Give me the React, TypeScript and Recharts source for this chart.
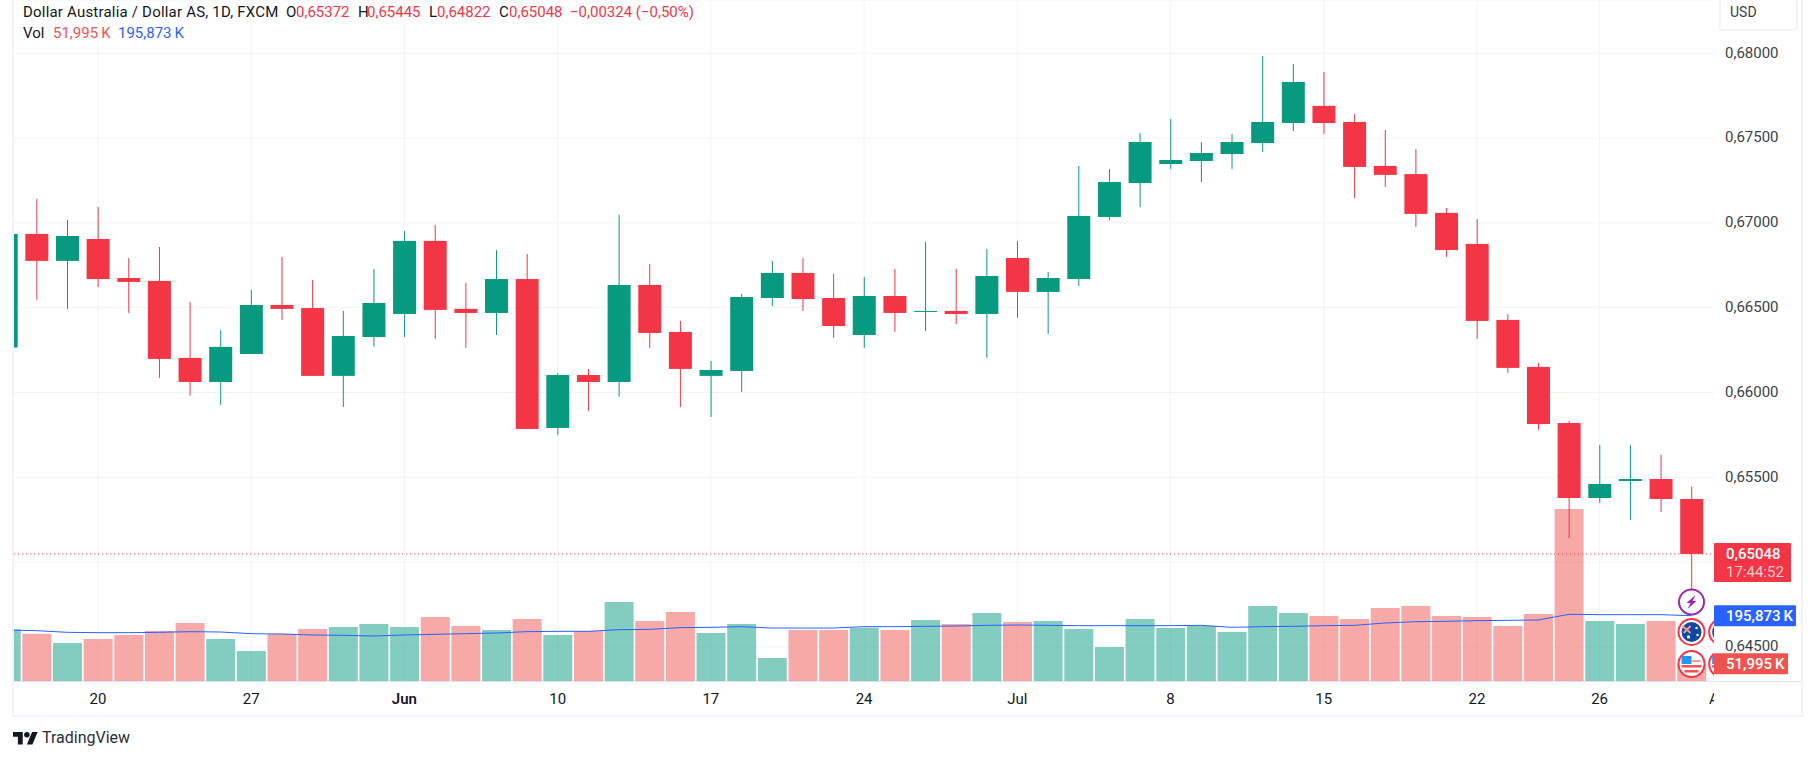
import {
  Bar,
  CartesianGrid,
  Cell,
  ComposedChart,
  Line,
  ReferenceDot,
  ReferenceLine,
  XAxis,
  YAxis,
} from "recharts";

// ---------------------------------------------------------------------------
// Data
// ---------------------------------------------------------------------------

const DATES = [
  "May 15", "May 16", "May 17", "May 20", "May 21", "May 22", "May 23", "May 24",
  "May 27", "May 28", "May 29", "May 30", "May 31", "Jun 3", "Jun 4", "Jun 5",
  "Jun 6", "Jun 7", "Jun 10", "Jun 11", "Jun 12", "Jun 13", "Jun 14", "Jun 17",
  "Jun 18", "Jun 19", "Jun 20", "Jun 21", "Jun 24", "Jun 25", "Jun 26", "Jun 27",
  "Jun 28", "Jul 1", "Jul 2", "Jul 3", "Jul 4", "Jul 5", "Jul 8", "Jul 9",
  "Jul 10", "Jul 11", "Jul 12", "Jul 15", "Jul 16", "Jul 17", "Jul 18", "Jul 19",
  "Jul 22", "Jul 23", "Jul 24", "Jul 25", "Jul 26", "Jul 29", "Jul 30", "Jul 31",
  "Aug 1",
];

const OPENS = [
  0.66265, 0.66935, 0.66776, 0.66905, 0.66675, 0.66658, 0.66204, 0.66062,
  0.66227, 0.66516, 0.66498, 0.66098, 0.66327, 0.66463, 0.66894, 0.66493,
  0.66469, 0.66669, 0.65791, 0.66103, 0.66062, 0.66634, 0.66357, 0.66098,
  0.66127, 0.66557, 0.66705, 0.66557, 0.66339, 0.66569, 0.66475, 0.66481,
  0.66463, 0.66793, 0.66593, 0.66669, 0.67035, 0.67235, 0.67347, 0.67365,
  0.67406, 0.67471, 0.67589, 0.67690, 0.67595, 0.67336, 0.67288, 0.67059,
  0.66876, 0.66428, 0.66151, 0.65820, 0.65378, 0.65478, 0.65490, 0.65372,
];

const CLOSES = [
  0.66935, 0.66776, 0.66923, 0.66669, 0.66652, 0.66198, 0.66062, 0.66269,
  0.66516, 0.66493, 0.66098, 0.66333, 0.66528, 0.66894, 0.66487, 0.66469,
  0.66669, 0.65785, 0.66103, 0.66062, 0.66634, 0.66351, 0.66139, 0.66133,
  0.66563, 0.66705, 0.66551, 0.66392, 0.66569, 0.66469, 0.66481, 0.66463,
  0.66687, 0.66593, 0.66675, 0.67041, 0.67241, 0.67477, 0.67371, 0.67412,
  0.67477, 0.67595, 0.67831, 0.67589, 0.67330, 0.67283, 0.67053, 0.66840,
  0.66422, 0.66145, 0.65814, 0.65378, 0.65461, 0.65490, 0.65372, 0.65048,
];

const HIGHS = [
  0.66980, 0.67141, 0.67017, 0.67094, 0.66793, 0.66858, 0.66534, 0.66369,
  0.66605, 0.66799, 0.66664, 0.66481, 0.66728, 0.66952, 0.66988, 0.66646,
  0.66840, 0.66817, 0.66115, 0.66139, 0.67047, 0.66758, 0.66422, 0.66186,
  0.66581, 0.66776, 0.66793, 0.66699, 0.66681, 0.66728, 0.66888, 0.66728,
  0.66846, 0.66894, 0.66711, 0.67336, 0.67318, 0.67530, 0.67613, 0.67477,
  0.67524, 0.67984, 0.67937, 0.67890, 0.67642, 0.67548, 0.67436, 0.67088,
  0.67023, 0.66463, 0.66174, 0.65832, 0.65691, 0.65691, 0.65632, 0.65445,
];

const LOWS = [
  0.66230, 0.66546, 0.66493, 0.66622, 0.66469, 0.66086, 0.65980, 0.65927,
  0.66227, 0.66428, 0.66098, 0.65915, 0.66269, 0.66327, 0.66316, 0.66263,
  0.66339, 0.65785, 0.65750, 0.65891, 0.65974, 0.66263, 0.65915, 0.65856,
  0.66003, 0.66510, 0.66481, 0.66322, 0.66263, 0.66357, 0.66363, 0.66404,
  0.66204, 0.66440, 0.66345, 0.66628, 0.67017, 0.67094, 0.67318, 0.67241,
  0.67318, 0.67418, 0.67542, 0.67524, 0.67147, 0.67212, 0.66976, 0.66799,
  0.66316, 0.66115, 0.65779, 0.65142, 0.65349, 0.65248, 0.65296, 0.64822,
];

// thousands
const VOLUMES = [
  155, 142, 114, 126, 138, 150, 174, 126, 90, 141, 156, 162, 171, 162, 192, 165,
  153, 186, 138, 150, 237, 180, 207, 144, 171, 69, 153, 153, 160, 153, 183, 171,
  204, 177, 180, 156, 102, 186, 159, 165, 147, 225, 204, 195, 186, 219, 225, 195,
  192, 165, 201, 516, 180, 171, 180, 51.995,
];

const VOLUME_MA = [
  153, 151, 146, 145, 145, 146, 148, 147, 142, 141, 138, 137, 135, 138, 140, 142,
  144, 148, 149, 149, 154, 155, 160, 161, 163, 159, 159, 159, 163, 163, 164, 165,
  167, 168, 167, 166, 166, 166, 166, 167, 161, 163, 164, 166, 167, 174, 178, 179,
  181, 182, 183, 200, 199, 199, 199, 195.873,
];

const PRICE_TICKS = [0.645, 0.65, 0.655, 0.66, 0.665, 0.67, 0.675, 0.68];
const DATE_TICKS = [
  "May 20", "May 27", "Jun 3", "Jun 10", "Jun 17", "Jun 24", "Jul 1", "Jul 8",
  "Jul 15", "Jul 22", "Jul 26", "Aug 1",
];
const DATE_TICK_LABELS = ["20", "27", "Jun", "10", "17", "24", "Jul", "8", "15", "22", "26", "Aug"];

const LAST_PRICE = 0.65048;
const LAST_VOLUME = 51.995;
const LAST_VOLUME_MA = 195.873;
const LAST_DATE = "Jul 31";
const NEXT_DATE = "Aug 1";
const BOLT_PRICE = 0.64765;
const AU_PRICE = 0.64588;
const US_PRICE = 0.64399;

const table = DATES.map((date, i) => ({
  date,
  open: OPENS[i] ?? null,
  close: CLOSES[i] ?? null,
  high: HIGHS[i] ?? null,
  low: LOWS[i] ?? null,
  range: HIGHS[i] != null ? [LOWS[i], HIGHS[i]] : null,
  volume: VOLUMES[i] ?? null,
  volumeMa: VOLUME_MA[i] ?? null,
}));

// ---------------------------------------------------------------------------
// Palette and layout
// ---------------------------------------------------------------------------

const UP = "#089981";
const DOWN = "#f23645";
const VOL_DOWN = "#ef5350";
const BLUE = "#2962ff";
const GRID = "#f0f3fa";
const TEXT = "#131722";
const FONT = "Roboto, sans-serif";

const PLOT_LEFT = 13;
const PLOT_RIGHT = 1714;

function formatPrice(v: number) {
  return v.toFixed(5).replace(".", ",");
}

// the last-price badge sits on top of the 0,65000 label
function formatPriceTick(v: number) {
  return v === 0.65 ? "" : formatPrice(v);
}

// ---------------------------------------------------------------------------
// Custom marks
// ---------------------------------------------------------------------------

function CandleShape({ x, y, width, height, payload }: any) {
  if (!payload || payload.open == null) return null;
  const { open, close, high, low } = payload;
  const perUnit = height / (high - low);
  const bodyTop = y + (high - Math.max(open, close)) * perUnit;
  const bodyHeight = Math.max(Math.abs(open - close) * perUnit, 1);
  const fill = close >= open ? UP : DOWN;
  return (
    <g>
      <rect x={x + width / 2 - 0.5} y={y} width={1} height={height} fill={fill} />
      <rect x={x} y={bodyTop} width={width} height={bodyHeight} fill={fill} />
    </g>
  );
}

function DateTick({ x, y, payload }: any) {
  const label = DATE_TICK_LABELS[DATE_TICKS.indexOf(payload.value)];
  return (
    <text
      x={x}
      y={y + 23}
      textAnchor="middle"
      clipPath="url(#plot-clip)"
      fontFamily={FONT}
      fontSize={15}
      fontWeight={label === "Jun" ? 600 : 400}
      fill={TEXT}
    >
      {label}
    </text>
  );
}

function Badge({ cy, fill, width, label, sub }: any) {
  const height = sub ? 39 : 21;
  const top = sub ? cy - 11 : cy - 10.5;
  return (
    <g fontFamily={FONT} fontSize={15}>
      <rect x={PLOT_RIGHT} y={top} width={width} height={height} fill={fill} rx={1} />
      <text x={PLOT_RIGHT + 12} y={top + 16} fill="#fff" fontWeight={500}>
        {label}
      </text>
      {sub && (
        <text x={PLOT_RIGHT + 12} y={top + 34} fill="#fff" fillOpacity={0.75}>
          {sub}
        </text>
      )}
    </g>
  );
}

function BoltIcon({ cx, cy }: any) {
  return (
    <g>
      <circle cx={cx} cy={cy} r={12.5} fill="#fff" stroke="#9c27b0" strokeWidth={2} />
      <path
        d={`M${cx + 4} ${cy - 7}L${cx - 5} ${cy + 1}H${cx - 1}L${cx - 4} ${cy + 7}L${cx + 5} ${cy - 1}H${cx + 1}Z`}
        fill="#9c27b0"
      />
    </g>
  );
}

function AuFlag({ cx, cy }: any) {
  return (
    <g clipPath="url(#plot-clip)">
      <circle cx={cx} cy={cy} r={13} fill="#fff" stroke={DOWN} strokeWidth={2} />
      <circle cx={cx} cy={cy} r={10} fill="#0d47a1" />
      <path d={`M${cx - 9} ${cy - 6}L${cx - 1} ${cy + 1}M${cx - 1} ${cy - 6}L${cx - 8} ${cy + 1}`} stroke="#ef9a9a" strokeWidth={2} />
      <circle cx={cx + 5} cy={cy - 4} r={1.2} fill="#fff" />
      <circle cx={cx + 6} cy={cy + 3} r={1.2} fill="#fff" />
      <circle cx={cx - 3} cy={cy + 5} r={1.6} fill="#fff" />
    </g>
  );
}

function UsFlag({ cx, cy }: any) {
  return (
    <g clipPath="url(#plot-clip)">
      <circle cx={cx} cy={cy} r={13} fill="#fff" stroke={DOWN} strokeWidth={2} />
      <rect x={cx - 10} y={cy - 8} width={10} height={8} fill="#2196f3" />
      <rect x={cx - 10} y={cy + 1} width={20} height={2.5} fill="#ef5350" />
      <rect x={cx - 7} y={cy + 6} width={14} height={2.5} fill="#ef5350" />
      <rect x={cx} y={cy - 4} width={9} height={2} fill="#ef9a9a" />
    </g>
  );
}

// ---------------------------------------------------------------------------
// Overlay text
// ---------------------------------------------------------------------------

function Txt({ x, y, color = TEXT, size = 15, spacing = 0, children }: any) {
  return (
    <span
      style={{
        position: "absolute",
        left: x,
        top: y,
        color,
        fontFamily: FONT,
        fontSize: size,
        letterSpacing: spacing,
        lineHeight: "20px",
        whiteSpace: "nowrap",
      }}
    >
      {children}
    </span>
  );
}

function Box({ style }: any) {
  return <div style={{ position: "absolute", ...style }} />;
}

export default function App() {
  return (
    <div
      style={{
        position: "absolute",
        left: 0,
        top: 0,
        width: 1814,
        height: 760,
        overflow: "hidden",
        background: "#fff",
      }}
    >
      <ComposedChart
        width={1814}
        height={760}
        data={table}
        margin={{ top: 0, right: 16.5, bottom: 44, left: -9.3 }}
        style={{ position: "absolute", left: 0, top: 0 }}
      >
        <defs>
          <clipPath id="plot-clip">
            <rect x={PLOT_LEFT} y={0} width={PLOT_RIGHT - PLOT_LEFT} height={720} />
          </clipPath>
        </defs>
        <CartesianGrid
          xAxisId="main"
          yAxisId="price"
          horizontal={(p: any) => (
            <line key={p.key} x1={PLOT_LEFT} x2={PLOT_RIGHT} y1={p.y1} y2={p.y2} stroke={GRID} strokeWidth={1} />
          )}
          vertical={(p: any) =>
            p.x1 > PLOT_RIGHT ? (
              <g key={p.key} />
            ) : (
              <line key={p.key} x1={p.x1} x2={p.x2} y1={p.y1} y2={p.y2} stroke={GRID} strokeWidth={1} />
            )
          }
        />
        <XAxis
          xAxisId="main"
          dataKey="date"
          ticks={DATE_TICKS}
          interval={0}
          height={35}
          tickSize={0}
          tickMargin={0}
          axisLine={false}
          tickLine={false}
          tick={<DateTick />}
        />
        <XAxis xAxisId="vol" dataKey="date" hide />
        <YAxis
          yAxisId="price"
          orientation="right"
          type="number"
          domain={[0.642989, 0.683143]}
          allowDataOverflow
          ticks={PRICE_TICKS}
          interval={0}
          width={60}
          tickSize={0}
          tickMargin={0}
          axisLine={false}
          tickLine={false}
          tickFormatter={formatPriceTick}
          tick={{ fill: "#3c3f48", fontSize: 15, fontFamily: FONT, dx: -12.5, dy: -1 }}
        />
        <YAxis yAxisId="vol" type="number" domain={[0, 2043]} hide />

        <Bar
          xAxisId="vol"
          yAxisId="vol"
          dataKey="volume"
          barSize={29}
          isAnimationActive={false}
        >
          {table.map((d) => (
            <Cell
              key={d.date}
              fill={d.close != null && d.close >= d.open! ? UP : VOL_DOWN}
              fillOpacity={0.5}
            />
          ))}
        </Bar>
        <Line
          xAxisId="vol"
          yAxisId="vol"
          dataKey="volumeMa"
          type="linear"
          stroke={BLUE}
          strokeWidth={1}
          dot={false}
          activeDot={false}
          isAnimationActive={false}
        />
        <Bar
          xAxisId="main"
          yAxisId="price"
          dataKey="range"
          barSize={23}
          shape={<CandleShape />}
          isAnimationActive={false}
        />

        <ReferenceLine
          xAxisId="main"
          yAxisId="price"
          segment={[
            { x: DATES[0], y: LAST_PRICE },
            { x: NEXT_DATE, y: LAST_PRICE },
          ]}
          stroke={DOWN}
          strokeDasharray="1 3"
        />
        <ReferenceDot xAxisId="main" yAxisId="price" x={LAST_DATE} y={BOLT_PRICE} r={13} shape={<BoltIcon />} />
        <ReferenceDot xAxisId="main" yAxisId="price" x={LAST_DATE} y={AU_PRICE} r={13} shape={<AuFlag />} />
        <ReferenceDot xAxisId="main" yAxisId="price" x={NEXT_DATE} y={AU_PRICE} r={13} shape={<AuFlag />} />
        <ReferenceDot xAxisId="main" yAxisId="price" x={LAST_DATE} y={US_PRICE} r={13} shape={<UsFlag />} />
        <ReferenceDot xAxisId="main" yAxisId="price" x={NEXT_DATE} y={US_PRICE} r={13} shape={<UsFlag />} />
        <ReferenceDot
          xAxisId="main"
          yAxisId="price"
          x={LAST_DATE}
          y={LAST_PRICE}
          shape={(p: any) => (
            <Badge cy={p.cy} fill={DOWN} width={77} label={formatPrice(LAST_PRICE)} sub="17:44:52" />
          )}
        />
        <ReferenceDot
          xAxisId="vol"
          yAxisId="vol"
          x={LAST_DATE}
          y={LAST_VOLUME_MA}
          shape={(p: any) => <Badge cy={p.cy} fill={BLUE} width={82} label={"195,873\u2009K"} />}
        />
        <ReferenceDot
          xAxisId="vol"
          yAxisId="vol"
          x={LAST_DATE}
          y={LAST_VOLUME}
          shape={(p: any) => <Badge cy={p.cy} fill={VOL_DOWN} width={74} label={"51,995\u2009K"} />}
        />
      </ComposedChart>

      {/* frame around the panes */}
      <Box style={{ left: 0, top: 0, width: 12, height: 760, background: "#fff" }} />
      <Box style={{ left: 12, top: 0, width: 2, height: 717, background: GRID }} />
      <Box style={{ left: 12, top: 715, width: 1791, height: 2, background: GRID }} />
      <Box style={{ left: 1801, top: 0, width: 2, height: 717, background: GRID }} />
      <Box style={{ left: 14, top: 680.5, width: 1787, height: 1.5, background: "#e0e3eb" }} />
      <Box
        style={{
          left: 1719,
          top: -2,
          width: 75,
          height: 29,
          border: `2px solid ${GRID}`,
          borderRadius: 4,
        }}
      />
      <Txt x={1730} y={2} color="#3c3f48" size={14}>USD</Txt>

      {/* legend rows */}
      <Txt x={23} y={2} spacing={0.2}>Dollar Australia / Dollar AS, 1D, FXCM</Txt>
      <Txt x={286} y={2}>O</Txt>
      <Txt x={296} y={2} color={DOWN}>0,65372</Txt>
      <Txt x={358} y={2}>H</Txt>
      <Txt x={367} y={2} color={DOWN}>0,65445</Txt>
      <Txt x={429} y={2}>L</Txt>
      <Txt x={437} y={2} color={DOWN}>0,64822</Txt>
      <Txt x={499} y={2}>C</Txt>
      <Txt x={509} y={2} color={DOWN}>0,65048</Txt>
      <Txt x={570} y={2} color={DOWN}>−0,00324 (−0,50%)</Txt>
      <Txt x={23} y={23}>Vol</Txt>
      <Txt x={53} y={23} color={VOL_DOWN}>{"51,995\u2009K"}</Txt>
      <Txt x={118} y={23} color={BLUE}>{"195,873\u2009K"}</Txt>

      {/* footer logo */}
      <svg
        width={25}
        height={12.5}
        viewBox="0 4 36 18"
        style={{ position: "absolute", left: 13, top: 732 }}
      >
        <path d="M14 22H7V11H0V4h14v18zM28 22h-8l7.5-18h8L28 22z" fill={TEXT} />
        <circle cx={20} cy={8} r={4} fill={TEXT} />
      </svg>
      <Txt x={42} y={728} size={16} color="#2a2e39">TradingView</Txt>
    </div>
  );
}
